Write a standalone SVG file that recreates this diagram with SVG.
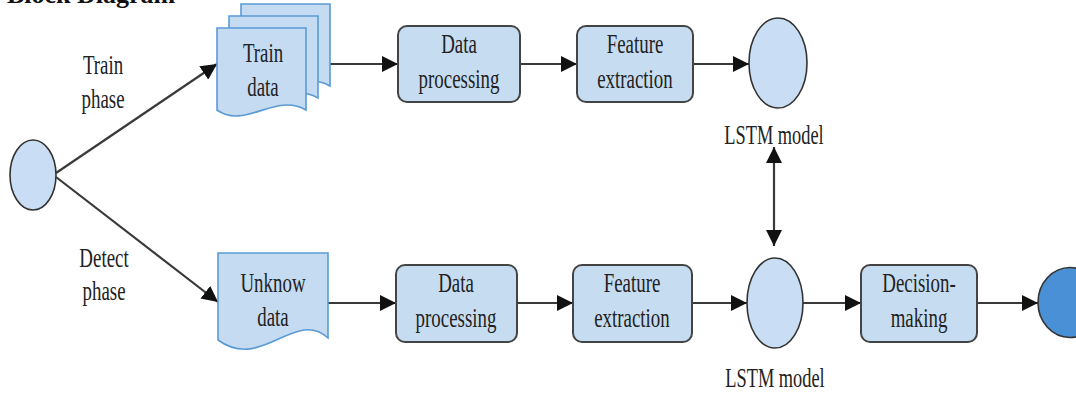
<svg xmlns="http://www.w3.org/2000/svg" width="1076" height="393" viewBox="0 0 1076 393">
<style>
.t{font-family:"Liberation Serif","Times New Roman",serif;font-size:27px;text-anchor:middle;fill:#222}
.box{fill:#c6dcf1;stroke:#444;stroke-width:2}
.doc{fill:#c4dbf1;stroke:#5b9bd5;stroke-width:1.6}
.ell{fill:#c9def4;stroke:#333;stroke-width:1.6}
.ln{stroke:#3a3a3a;stroke-width:2.2;fill:none}
</style>
<defs>
<marker id="ah" viewBox="0 0 16 16" refX="16" refY="8" markerWidth="16" markerHeight="16" markerUnits="userSpaceOnUse" orient="auto-start-reverse">
<path d="M0,0 L16,8 L0,16 z" fill="#111"/>
</marker>
</defs>
<rect width="1076" height="393" fill="#fff"/>
<text x="7" y="3" style="font-family:'Liberation Serif',serif;font-size:26px;font-weight:bold;fill:#111">Block Diagram</text>

<g id="connectors">
<line class="ln" x1="56" y1="173" x2="217" y2="64" marker-end="url(#ah)"/>
<line class="ln" x1="56" y1="177" x2="218" y2="302" marker-end="url(#ah)"/>
<line class="ln" x1="330" y1="64" x2="398" y2="64" marker-end="url(#ah)"/>
<line class="ln" x1="520" y1="64" x2="577" y2="64" marker-end="url(#ah)"/>
<line class="ln" x1="693" y1="64" x2="749" y2="64" marker-end="url(#ah)"/>
<line class="ln" x1="774" y1="147" x2="774" y2="246" marker-start="url(#ah)" marker-end="url(#ah)"/>
<line class="ln" x1="328" y1="303" x2="396" y2="303" marker-end="url(#ah)"/>
<line class="ln" x1="517" y1="303" x2="573" y2="303" marker-end="url(#ah)"/>
<line class="ln" x1="692" y1="303" x2="747" y2="303" marker-end="url(#ah)"/>
<line class="ln" x1="803" y1="303" x2="861" y2="303" marker-end="url(#ah)"/>
<line class="ln" x1="977" y1="303" x2="1038" y2="303" marker-end="url(#ah)"/>
</g>

<g id="start">
<ellipse class="ell" cx="33" cy="175" rx="23" ry="35"/>
</g>

<g id="train-phase-label">
<text class="t" transform="translate(103 74) scale(0.7 1)">Train</text>
<text class="t" transform="translate(103 108) scale(0.7 1)">phase</text>
</g>
<g id="detect-phase-label">
<text class="t" transform="translate(104 267) scale(0.7 1)">Detect</text>
<text class="t" transform="translate(104 300) scale(0.7 1)">phase</text>
</g>

<g id="train-data">
<path class="doc" transform="translate(24 -24)" d="M217,28 H306 V110 C275,92 245,130 217,110 Z"/>
<path class="doc" transform="translate(12 -12)" d="M217,28 H306 V110 C275,92 245,130 217,110 Z"/>
<path class="doc" d="M217,28 H306 V110 C275,92 245,130 217,110 Z"/>
<text class="t" transform="translate(263 62) scale(0.7 1)">Train</text>
<text class="t" transform="translate(263 96) scale(0.7 1)">data</text>
</g>

<g id="data-processing-1">
<rect class="box" x="398" y="26" width="122" height="76" rx="9"/>
<text class="t" transform="translate(459 53) scale(0.7 1)">Data</text>
<text class="t" transform="translate(459 88) scale(0.7 1)">processing</text>
</g>

<g id="feature-extraction-1">
<rect class="box" x="577" y="26" width="116" height="76" rx="9"/>
<text class="t" transform="translate(635 53) scale(0.7 1)">Feature</text>
<text class="t" transform="translate(635 88) scale(0.7 1)">extraction</text>
</g>

<g id="lstm-1">
<ellipse class="ell" cx="778" cy="63" rx="29" ry="45"/>
<text class="t" transform="translate(774 144) scale(0.68 1)">LSTM model</text>
</g>

<g id="unknow-data">
<path class="doc" d="M218,253 H328 V338 C295,308 262,372 218,340 Z"/>
<text class="t" transform="translate(273 292) scale(0.7 1)">Unknow</text>
<text class="t" transform="translate(273 326) scale(0.7 1)">data</text>
</g>

<g id="data-processing-2">
<rect class="box" x="396" y="265" width="121" height="77" rx="9"/>
<text class="t" transform="translate(456 292) scale(0.7 1)">Data</text>
<text class="t" transform="translate(456 327) scale(0.7 1)">processing</text>
</g>

<g id="feature-extraction-2">
<rect class="box" x="573" y="265" width="119" height="77" rx="9"/>
<text class="t" transform="translate(632 292) scale(0.7 1)">Feature</text>
<text class="t" transform="translate(632 327) scale(0.7 1)">extraction</text>
</g>

<g id="lstm-2">
<ellipse class="ell" cx="775" cy="303" rx="28" ry="45"/>
<text class="t" transform="translate(775 387) scale(0.68 1)">LSTM model</text>
</g>

<g id="decision-making">
<rect class="box" x="861" y="265" width="116" height="77" rx="9"/>
<text class="t" transform="translate(919 292) scale(0.7 1)">Decision-</text>
<text class="t" transform="translate(919 327) scale(0.7 1)">making</text>
</g>

<g id="end">
<ellipse cx="1070" cy="302.5" rx="32" ry="35" fill="#4a90d6" stroke="#333" stroke-width="1.6"/>
</g>
</svg>
